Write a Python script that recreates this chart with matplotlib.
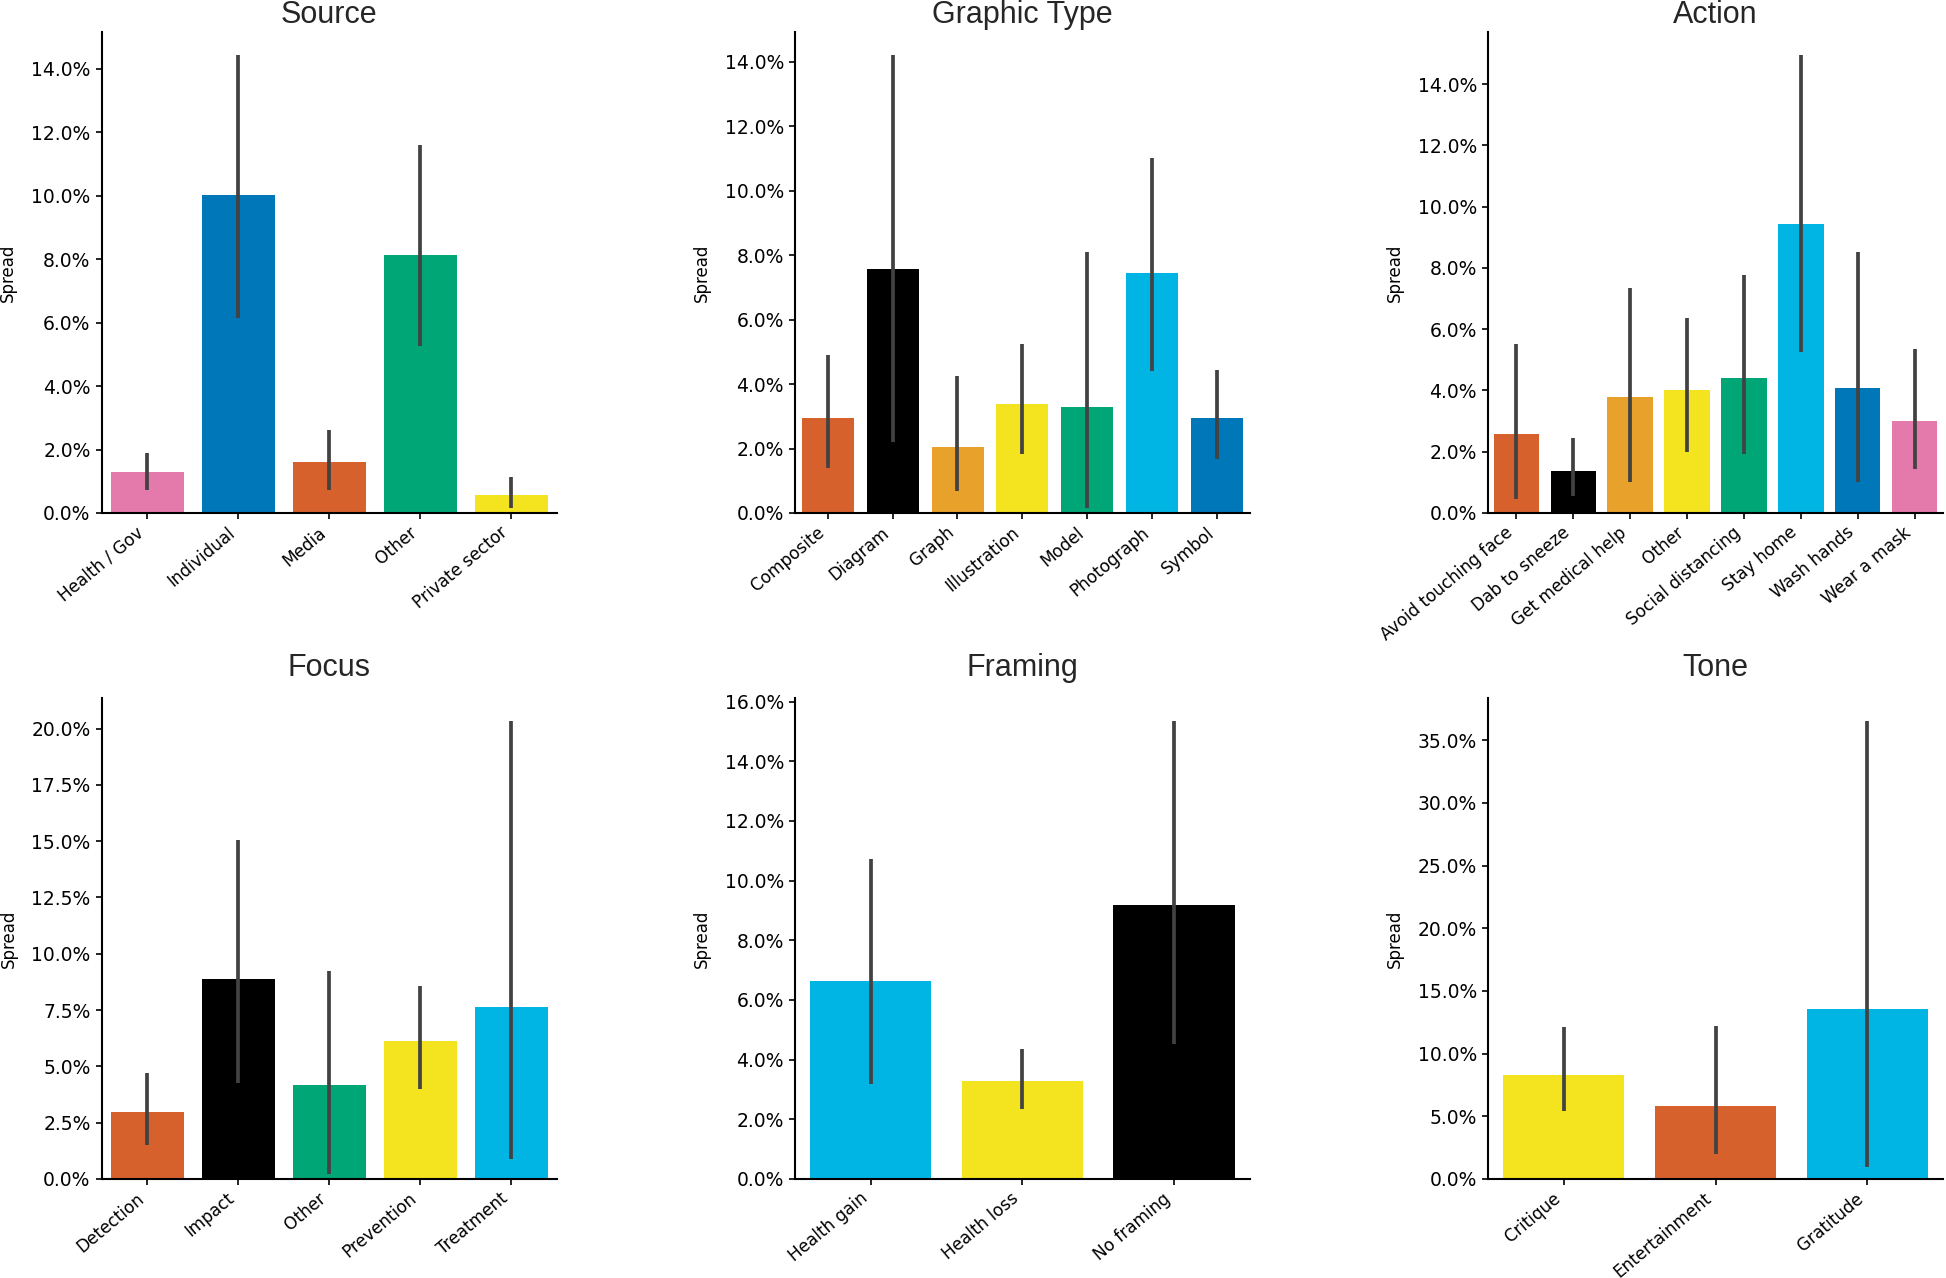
import matplotlib
matplotlib.use("Agg")
import matplotlib.pyplot as plt
from matplotlib.ticker import PercentFormatter, MultipleLocator

# ---------- data (spread in %, mean with CI bounds) ----------
source_cats = ["Health / Gov", "Individual", "Media", "Other", "Private sector"]
source_mean = [1.29, 10.03, 1.60, 8.13, 0.56]
source_lo = [0.74, 6.15, 0.74, 5.26, 0.15]
source_hi = [1.89, 14.44, 2.62, 11.59, 1.12]

graphic_cats = ["Composite", "Diagram", "Graph", "Illustration", "Model", "Photograph", "Symbol"]
graphic_mean = [2.96, 7.57, 2.05, 3.38, 3.29, 7.46, 2.94]
graphic_lo = [1.40, 2.21, 0.67, 1.84, 0.15, 4.41, 1.68]
graphic_hi = [4.89, 14.21, 4.26, 5.23, 8.10, 11.00, 4.44]

action_cats = ["Avoid touching face", "Dab to sneeze", "Get medical help", "Other",
               "Social distancing", "Stay home", "Wash hands", "Wear a mask"]
action_mean = [2.58, 1.36, 3.78, 4.02, 4.41, 9.43, 4.08, 2.99]
action_lo = [0.47, 0.55, 1.02, 1.98, 1.94, 5.24, 1.01, 1.45]
action_hi = [5.52, 2.44, 7.35, 6.38, 7.78, 14.95, 8.51, 5.34]

focus_cats = ["Detection", "Impact", "Other", "Prevention", "Treatment"]
focus_mean = [2.98, 8.89, 4.17, 6.11, 7.64]
focus_lo = [1.49, 4.28, 0.20, 4.01, 0.90]
focus_hi = [4.69, 15.06, 9.24, 8.59, 20.34]

framing_cats = ["Health gain", "Health loss", "No framing"]
framing_mean = [6.63, 3.29, 9.17]
framing_lo = [3.17, 2.35, 4.54]
framing_hi = [10.71, 4.35, 15.35]

tone_cats = ["Critique", "Entertainment", "Gratitude"]
tone_mean = [8.27, 5.84, 13.56]
tone_lo = [5.39, 2.00, 0.97]
tone_hi = [12.14, 12.17, 36.55]

# ---------- colours ----------
PINK = "#E47AAB"
BLUE = "#0077B8"
VERM = "#D6612D"
GREEN = "#00A676"
YELLOW = "#F4E31F"
SKY = "#00B4E3"
ORANGE = "#E8A12B"
BLACK = "#000000"

source_colors = [PINK, BLUE, VERM, GREEN, YELLOW]
graphic_colors = [VERM, BLACK, ORANGE, YELLOW, GREEN, SKY, BLUE]
action_colors = [VERM, BLACK, ORANGE, YELLOW, GREEN, SKY, BLUE, PINK]
focus_colors = [VERM, BLACK, GREEN, YELLOW, SKY]
framing_colors = [SKY, YELLOW, BLACK]
tone_colors = [YELLOW, VERM, SKY]

panels = [
    ("Source", source_cats, source_mean, source_lo, source_hi, source_colors, 2.0),
    ("Graphic Type", graphic_cats, graphic_mean, graphic_lo, graphic_hi, graphic_colors, 2.0),
    ("Action", action_cats, action_mean, action_lo, action_hi, action_colors, 2.0),
    ("Focus", focus_cats, focus_mean, focus_lo, focus_hi, focus_colors, 2.5),
    ("Framing", framing_cats, framing_mean, framing_lo, framing_hi, framing_colors, 2.0),
    ("Tone", tone_cats, tone_mean, tone_lo, tone_hi, tone_colors, 5.0),
]

W, H = 1946, 1278
col_left = [101.7, 795, 1488]
ax_w = 455
rows = [(32, 513), (698, 1179)]
title_pads = [6.7, 15.8]

fig = plt.figure(figsize=(W / 100, H / 100), dpi=100)

for i, (title, cats, mean, lo, hi, colors, step) in enumerate(panels):
    r, c = divmod(i, 3)
    top, bottom = rows[r]
    ax = fig.add_axes([col_left[c] / W, 1 - bottom / H, ax_w / W, (bottom - top) / H])
    x = list(range(len(cats)))
    ax.bar(x, mean, width=0.8, color=colors, linewidth=0)
    for xi, l, h in zip(x, lo, hi):
        ax.plot([xi, xi], [l, h], color="#424242", lw=2.7, solid_capstyle="butt")
    ax.set_xlim(-0.5, len(cats) - 0.5)
    ax.set_ylim(0, max(hi) * 1.05)
    ax.yaxis.set_major_locator(MultipleLocator(step))
    ax.yaxis.set_major_formatter(PercentFormatter(xmax=100, decimals=1))
    ax.set_xticks(x)
    ax.set_xticklabels(cats, rotation=40, ha="right")
    ax.tick_params(length=4.5, width=1.2, colors="black")
    ax.tick_params(axis="y", labelsize=13.5)
    ax.tick_params(axis="x", labelsize=12.2, pad=3)
    ax.set_ylabel("Spread", fontsize=12, labelpad=10)
    ax.set_title(title, fontsize=22, family="Liberation Sans", color="#262626",
                 pad=title_pads[r])
    for side in ["top", "right"]:
        ax.spines[side].set_visible(False)
    for side in ["left", "bottom"]:
        ax.spines[side].set_linewidth(1.5)

fig.savefig("out.png", dpi=100)
